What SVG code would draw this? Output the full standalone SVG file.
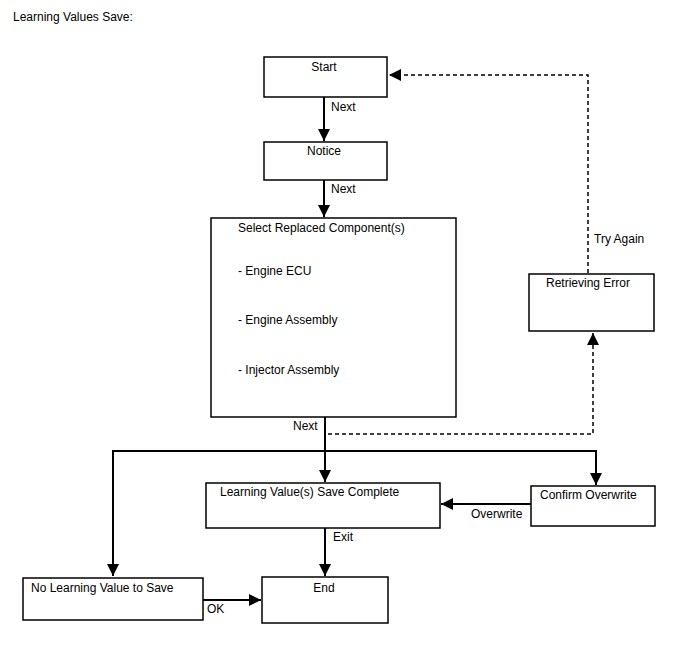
<svg xmlns="http://www.w3.org/2000/svg" width="688" height="658" viewBox="0 0 688 658">
<style>
text{font-family:"Liberation Sans",Arial,sans-serif;font-size:12px;fill:#000}
.box{fill:#fff;stroke:#000;stroke-width:1.5}
.c{fill:none;stroke:#000;stroke-width:2}
.d{fill:none;stroke:#000;stroke-width:1.5;stroke-dasharray:4,3}
</style>
<defs>
<marker id="ah" markerUnits="userSpaceOnUse" markerWidth="13" markerHeight="13" refX="12" refY="6" orient="auto" viewBox="0 0 13 13">
<path d="M0,0 L12,6 L0,12 z" fill="#000"/>
</marker>
</defs>
<rect width="688" height="658" fill="#fff"/>
<text x="13" y="21">Learning Values Save:</text>
<g id="connectors">
<path class="c" d="M324,97 V141" marker-end="url(#ah)"/>
<path class="c" d="M324,180 V217" marker-end="url(#ah)"/>
<path class="c" d="M325,417 V482" marker-end="url(#ah)"/>
<path class="c" d="M325,451 H596 V485" marker-end="url(#ah)"/>
<path class="c" d="M325,451 H113 V576" marker-end="url(#ah)"/>
<path class="d" d="M328,434 H593 V333" marker-end="url(#ah)"/>
<path class="d" d="M588,273 V75 H389" marker-end="url(#ah)"/>
<path class="c" d="M531,504 H441" marker-end="url(#ah)"/>
<path class="c" d="M325,528 V576" marker-end="url(#ah)"/>
<path class="c" d="M203,600 H261" marker-end="url(#ah)"/>
<text x="331" y="111">Next</text>
<text x="331" y="193">Next</text>
<text x="293" y="430">Next</text>
<text x="594" y="243">Try Again</text>
<text x="471" y="518">Overwrite</text>
<text x="333" y="541">Exit</text>
<text x="207" y="613">OK</text>
</g>
<g id="start"><rect class="box" x="264" y="57" width="123" height="40"/><text x="324" y="71" text-anchor="middle">Start</text></g>
<g id="notice"><rect class="box" x="264" y="142" width="123" height="38"/><text x="324" y="155" text-anchor="middle">Notice</text></g>
<g id="select"><rect class="box" x="211" y="218" width="245" height="199"/>
<text x="238" y="232">Select Replaced Component(s)</text>
<text x="238" y="275">- Engine ECU</text>
<text x="238" y="324">- Engine Assembly</text>
<text x="238" y="374">- Injector Assembly</text></g>
<g id="retrieving"><rect class="box" x="529" y="274" width="125" height="57"/><text x="546" y="287">Retrieving Error</text></g>
<g id="complete"><rect class="box" x="206" y="483" width="234" height="45"/><text x="220" y="496">Learning Value(s) Save Complete</text></g>
<g id="confirm"><rect class="box" x="531" y="486" width="124" height="40"/><text x="540" y="499">Confirm Overwrite</text></g>
<g id="nolearning"><rect class="box" x="23" y="578" width="180" height="42"/><text x="31" y="592">No Learning Value to Save</text></g>
<g id="end"><rect class="box" x="262" y="577" width="126" height="46"/><text x="324" y="592" text-anchor="middle">End</text></g>
</svg>
